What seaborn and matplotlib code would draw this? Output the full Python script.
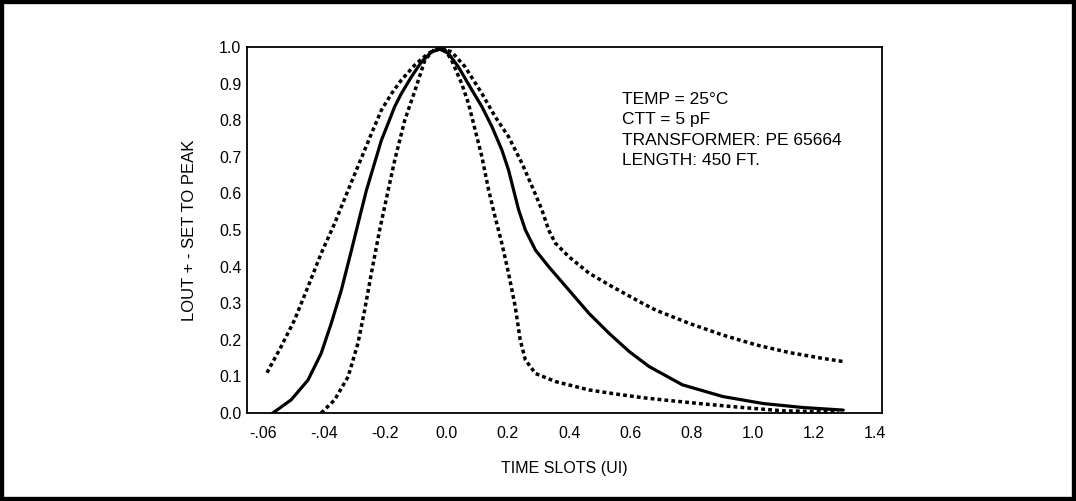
"""
Pulse shape at 450 ft: LOUT+/- normalised to peak vs. time slots,
with the template limits drawn as dotted curves.
"""

import matplotlib
matplotlib.use("Agg")
import matplotlib.pyplot as plt
from matplotlib.patches import Rectangle
import seaborn as sns

# measured pulse (solid)
pulse_x = [-0.568, -0.508, -0.453, -0.41, -0.377, -0.344, -0.311, -0.284, -0.262,
           -0.213, -0.191, -0.17, -0.148, -0.115, -0.082, -0.049, -0.022, 0.005,
           0.038, 0.082, 0.115, 0.148, 0.18, 0.202, 0.224, 0.235, 0.257, 0.29,
           0.333, 0.399, 0.465, 0.53, 0.596, 0.661, 0.77, 0.902, 1.033, 1.164, 1.295]
pulse_y = [0.0, 0.036, 0.09, 0.163, 0.245, 0.336, 0.445, 0.536, 0.609,
           0.746, 0.792, 0.837, 0.873, 0.919, 0.96, 0.987, 0.994, 0.983,
           0.946, 0.883, 0.837, 0.782, 0.719, 0.664, 0.591, 0.555, 0.5, 0.445,
           0.4, 0.336, 0.272, 0.218, 0.168, 0.127, 0.077, 0.045, 0.026, 0.015, 0.008]

# upper template (wide dotted)
upper_x = [-0.587, -0.541, -0.497, -0.453, -0.41, -0.366, -0.322, -0.246, -0.213,
           -0.18, -0.148, -0.104, -0.06, -0.022, 0.016, 0.06, 0.115, 0.158, 0.202,
           0.246, 0.284, 0.311, 0.333, 0.355, 0.399, 0.465, 0.541, 0.639, 0.683,
           0.792, 0.902, 1.011, 1.12, 1.23, 1.3]
upper_y = [0.11, 0.181, 0.254, 0.345, 0.436, 0.518, 0.609, 0.763, 0.828,
           0.873, 0.91, 0.951, 0.983, 0.997, 0.987, 0.946, 0.873, 0.81, 0.755,
           0.682, 0.609, 0.555, 0.5, 0.464, 0.427, 0.382, 0.345, 0.3, 0.281,
           0.245, 0.213, 0.186, 0.165, 0.149, 0.14]

# lower template (narrow dotted)
lower_x = [-0.41, -0.366, -0.322, -0.29, -0.268, -0.246, -0.219, -0.191, -0.17,
           -0.137, -0.104, -0.071, -0.038, -0.005, 0.016, 0.049, 0.071, 0.093,
           0.115, 0.137, 0.158, 0.18, 0.202, 0.224, 0.24, 0.257, 0.29, 0.355,
           0.465, 0.552, 0.639, 0.705, 0.836, 0.967, 1.098, 1.23, 1.28]
lower_y = [0.0, 0.036, 0.099, 0.19, 0.281, 0.382, 0.5, 0.609, 0.69,
           0.8, 0.88, 0.965, 0.996, 0.992, 0.964, 0.9, 0.846, 0.773,
           0.7, 0.609, 0.536, 0.464, 0.382, 0.29, 0.2, 0.145, 0.108, 0.086,
           0.063, 0.052, 0.042, 0.036, 0.025, 0.015, 0.006, 0.004, 0.003]

# tick labels as printed (including the "-.06" / "-.04" misprints)
x_ticks = [-0.6, -0.4, -0.2, 0.0, 0.2, 0.4, 0.6, 0.8, 1.0, 1.2, 1.4]
x_labels = ["-.06", "-.04", "-0.2", "0.0", "0.2", "0.4", "0.6", "0.8", "1.0", "1.2", "1.4"]
y_ticks = [0.0, 0.1, 0.2, 0.3, 0.4, 0.5, 0.6, 0.7, 0.8, 0.9, 1.0]

notes = ["TEMP = 25°C", "CTT = 5 pF", "TRANSFORMER: PE 65664", "LENGTH: 450 FT."]

sns.set_theme(style="white")
plt.rcParams["font.family"] = ["Liberation Sans", "DejaVu Sans"]

fig = plt.figure(figsize=(10.76, 5.01), dpi=100)
ax = fig.add_axes([0.2296, 0.1756, 0.5905, 0.7305])

dots = (0, (1.1, 0.9))
sns.lineplot(x=upper_x, y=upper_y, ax=ax, color="black", linewidth=2.5,
             linestyle=dots, sort=False)
sns.lineplot(x=lower_x, y=lower_y, ax=ax, color="black", linewidth=2.5,
             linestyle=dots, sort=False)
sns.lineplot(x=pulse_x, y=pulse_y, ax=ax, color="black", linewidth=2.3, sort=False)

ax.set_xlim(-0.652, 1.423)
ax.set_ylim(0, 1.0)
ax.set_xticks(x_ticks)
ax.set_xticklabels(x_labels)
ax.set_yticks(y_ticks)
ax.set_yticklabels([f"{v:.1f}" for v in y_ticks])
ax.tick_params(axis="both", length=0, labelsize=11.5, colors="black")
ax.tick_params(axis="x", pad=9)
ax.tick_params(axis="y", pad=4)

for side in ax.spines.values():
    side.set_color("black")
    side.set_linewidth(1.3)

ax.set_xlabel("TIME SLOTS (UI)", fontsize=11.5, color="black", labelpad=15)
ax.set_ylabel("LOUT + - SET TO PEAK", fontsize=12, color="black", labelpad=16)

ax.text(0.59, 0.877, "\n".join(notes), transform=ax.transAxes, fontsize=12.5,
        va="top", ha="left", linespacing=1.45, color="black")

# heavy frame round the whole figure
fig.patches.append(Rectangle((0, 0), 1, 1, transform=fig.transFigure, fill=False,
                             edgecolor="black", linewidth=6, zorder=10))

fig.savefig("out.png", dpi=100)
